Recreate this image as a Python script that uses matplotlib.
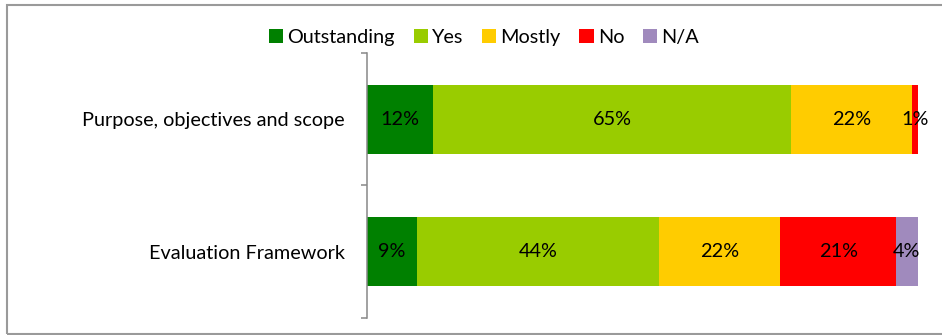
import matplotlib
matplotlib.use("Agg")
import matplotlib.pyplot as plt
from matplotlib.patches import Rectangle, Patch

categories = ["Purpose, objectives and scope", "Evaluation Framework"]
ratings = ["Outstanding", "Yes", "Mostly", "No", "N/A"]
values = {
    "Outstanding": [12, 9],
    "Yes": [65, 44],
    "Mostly": [22, 22],
    "No": [1, 21],
    "N/A": [0, 4],
}
colors = {
    "Outstanding": "#008000",
    "Yes": "#99CC00",
    "Mostly": "#FFCC00",
    "No": "#FF0000",
    "N/A": "#A08ABD",
}

plt.rcParams["font.family"] = ["Lato", "DejaVu Sans"]
FS = 14.3

W, H, DPI = 942, 335, 100
fig = plt.figure(figsize=(W / DPI, H / DPI), dpi=DPI)

# chart frame
fig.patches.append(Rectangle((7 / W, 1 - 333.5 / H), (W + 10) / W, (333.5 - 4.5) / H,
                             transform=fig.transFigure, fill=False,
                             edgecolor="#9a9a9a", linewidth=1.5, zorder=0))

ax = fig.add_axes([367 / W, 1 - 318 / H, (918 - 367) / W, (318 - 52.7) / H])

ypos = list(range(len(categories)))
left = [0.0] * len(categories)
for r in ratings:
    vals = values[r]
    ax.barh(ypos, vals, left=left, height=0.52, color=colors[r], label=r,
            edgecolor="none")
    for i, v in enumerate(vals):
        if v > 0:
            ax.text(left[i] + v / 2, ypos[i], f"{v}%", ha="center", va="center",
                    fontsize=FS, color="black")
    left = [a + b for a, b in zip(left, vals)]

ax.set_xlim(0, 100)
ax.set_ylim(len(categories) - 0.5, -0.5)

ax.set_yticks([i - 0.5 for i in range(len(categories) + 1)])
ax.set_yticklabels([])
ax.set_yticks(ypos, minor=True)
ax.set_yticklabels(categories, minor=True, fontsize=FS)
ax.tick_params(axis="y", which="major", length=4.3, width=1.1, color="#888888")
ax.tick_params(axis="y", which="minor", length=0, pad=16)
ax.set_xticks([])

for s in ["top", "right", "bottom"]:
    ax.spines[s].set_visible(False)
ax.spines["left"].set_color("#888888")
ax.spines["left"].set_linewidth(1.1)

handles = [Patch(facecolor=colors[r], edgecolor="none", label=r) for r in ratings]
fig.legend(handles=handles, loc="center", bbox_to_anchor=(484 / W, 1 - 37.5 / H),
           ncol=5, frameon=False, fontsize=FS, handlelength=0.72, handleheight=0.72,
           handletextpad=0.2, columnspacing=0.95, borderpad=0)

fig.savefig("out.png", dpi=DPI)
